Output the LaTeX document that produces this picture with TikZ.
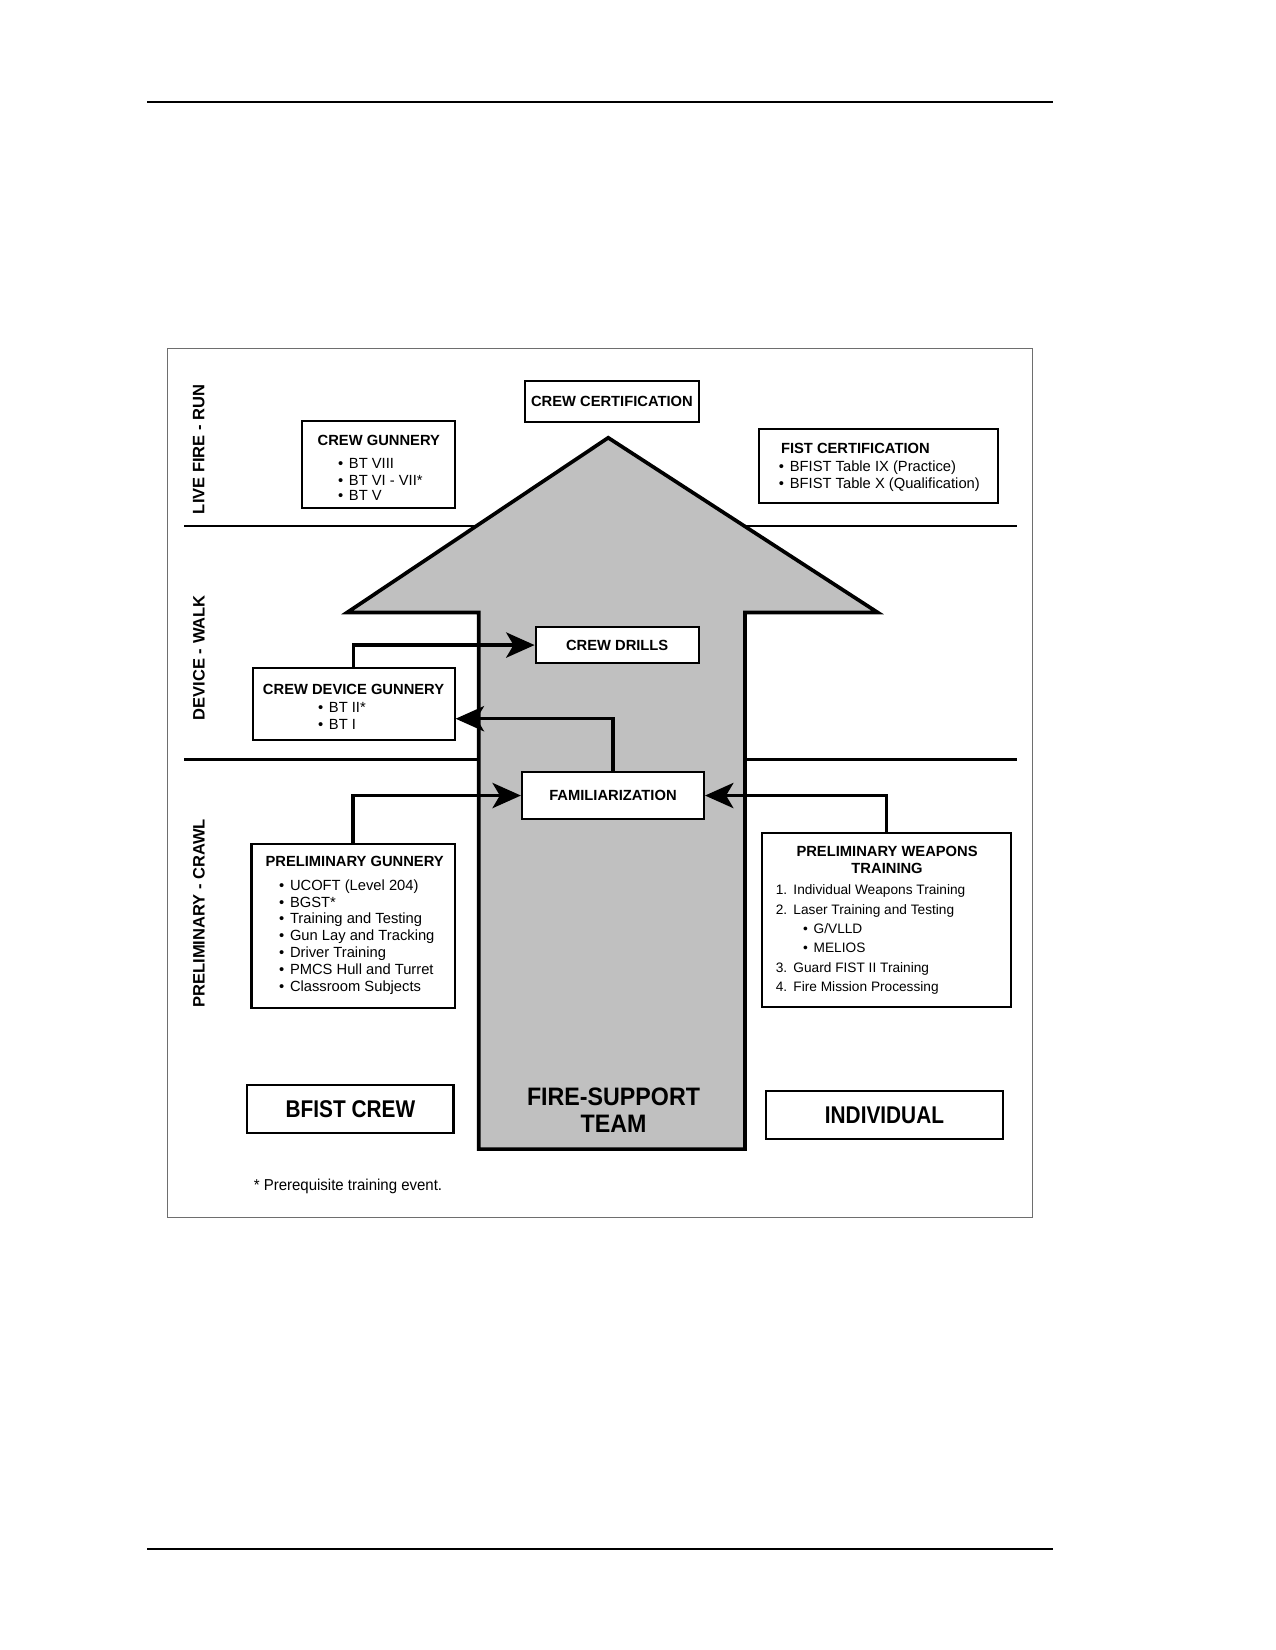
\documentclass[tikz,border=0pt]{standalone}
\usepackage{fontspec}
\setmainfont{Liberation Sans}
\newfontfamily\narrowsans[FakeStretch=0.86]{Liberation Sans}
\newfontfamily\semisans[FakeStretch=0.92]{Liberation Sans}
\newfontfamily\notesans[FakeStretch=0.95]{Liberation Sans}
\usetikzlibrary{arrows.meta,calc}
\definecolor{arrowgray}{RGB}{192,192,192}
\definecolor{framegray}{RGB}{110,110,110}
\newcommand{\blt}{\textbullet\hspace{5.5pt}}
\begin{document}
\begin{tikzpicture}[x=1pt,y=-1pt,
  box/.style={draw, line width=2pt, fill=white, inner sep=0pt},
  title/.style={font=\bfseries\fontsize{14}{16}\selectfont, inner sep=0pt},
  body/.style={font=\fontsize{14}{16}\selectfont, inner sep=0pt, anchor=base west},
  wbody/.style={font=\fontsize{13}{15}\selectfont, inner sep=0pt, anchor=base west},
  side/.style={font=\bfseries\fontsize{15.7}{18}\selectfont, inner sep=0pt, rotate=90},
  big/.style={font=\narrowsans\bfseries\fontsize{23}{25}\selectfont, inner sep=0pt, align=center},
  conn/.style={line width=3pt, -{Stealth[length=27pt, width=24pt, inset=7pt]}},
  band/.style={line width=2.5pt},
  rule/.style={line width=1.3pt}
]
\useasboundingbox (0,0) rectangle (1212,1568);
% page rules
\draw[rule] (140,97) -- (1001,97);
\draw[rule] (140,1472) -- (1001,1472);
% frame
\draw[framegray, line width=1.2pt] (159,331) rectangle (981,1157);
% section lines
\draw[band] (175,500) -- (966,500);
\draw[band] (175,722) -- (966,722);
% big arrow
\draw[line width=3.5pt, fill=arrowgray, line join=miter]
  (578,416) -- (834,582) -- (708,582) -- (708,1092) -- (455,1092) -- (455,582) -- (330,582) -- cycle;
% side labels
\node[side] (lfr) at (189,427) {LIVE FIRE - RUN};
\node[side] (dw) at (189,625) {DEVICE - WALK};
\node[side] (pc) at (189,868) {PRELIMINARY - CRAWL};
% boxes
\node[box, minimum width=165pt, minimum height=39pt] (crewcert) at (581.5,381.5) {};
\node[box, minimum width=145pt, minimum height=83pt] (crewgun) at (359.5,441.5) {};
\node[box, minimum width=227pt, minimum height=70pt] (fistcert) at (834.5,443) {};
\node[box, minimum width=155pt, minimum height=34pt] (crewdrills) at (586.5,613) {};
\node[box, minimum width=192pt, minimum height=68pt] (devgun) at (336,669) {};
\node[box, minimum width=173pt, minimum height=44pt] (famil) at (582.5,756) {};
\node[box, minimum width=193pt, minimum height=156pt] (prelgun) at (335.5,880) {};
\node[box, minimum width=237pt, minimum height=165pt] (prelweap) at (842.5,874.5) {};
\node[box, minimum width=196pt, minimum height=46pt] (bfist) at (333,1054) {};
\node[box, minimum width=225pt, minimum height=45pt] (indiv) at (840.5,1059.5) {};
% connectors
\draw[conn] (devgun.north) |- (crewdrills.west);
\draw[conn] (famil.north) |- ([yshift=-14pt]devgun.east);
\draw[conn] (prelgun.north) |- (famil.west);
\draw[conn] (prelweap.north) |- (famil.east);
% texts
\node[title] (crewcertT) at (crewcert.center) {CREW CERTIFICATION};
\node[title] (crewgunT) at (360,419) {CREW GUNNERY};
\node[body] (cg1) at (321,445) {\blt BT VIII};
\node[body] (cg2) at (321,461) {\blt BT VI - VII*};
\node[body] (cg3) at (321,476) {\blt BT V};
\node[title, anchor=base west] (fistT) at (742,431) {FIST CERTIFICATION};
\node[body] (fc1) at (740,448) {\blt BFIST Table IX (Practice)};
\node[body] (fc2) at (740,464) {\blt BFIST Table X (Qualification)};
\node[title] (crewdrillsT) at (crewdrills.center) {CREW DRILLS};
\node[title] (devgunT) at (336,655) {CREW DEVICE GUNNERY};
\node[body] (dg1) at (302,677) {\blt BT II*};
\node[body] (dg2) at (302,693) {\blt BT I};
\node[title] (familT) at (famil.center) {FAMILIARIZATION};
\node[title] (prelgunT) at (337,819) {PRELIMINARY GUNNERY};
\foreach \t [count=\i] in {UCOFT (Level 204), BGST*, Training and Testing, Gun Lay and Tracking, Driver Training, PMCS Hull and Turret, Classroom Subjects}
  \node[body] (pg\i) at (265,{846+(\i-1)*16}) {\blt \t};
\node[title, align=center, font=\bfseries\fontsize{14}{16}\selectfont] (prelweapT) at (843,817) {PRELIMINARY WEAPONS\\TRAINING};
\node[wbody] (pw1) at (737,850) {1.\hspace{6pt}Individual Weapons Training};
\node[wbody] (pw2) at (737,869) {2.\hspace{6pt}Laser Training and Testing};
\node[wbody] (pw2a) at (763,887) {\blt G/VLLD};
\node[wbody] (pw2b) at (763,905) {\blt MELIOS};
\node[wbody] (pw3) at (737,924) {3.\hspace{6pt}Guard FIST II Training};
\node[wbody] (pw4) at (737,942) {4.\hspace{6pt}Fire Mission Processing};
\node[big] (bfistT) at (bfist.center) {BFIST CREW};
\node[big] (indivT) at (indiv.center) {INDIVIDUAL};
\node[big, font=\semisans\bfseries\fontsize{24}{25}\selectfont] (fstT) at (583,1055) {FIRE-SUPPORT\\TEAM};
\node[font=\notesans\fontsize{15}{17}\selectfont, inner sep=0pt, anchor=west] (note) at (241,1127) {* Prerequisite training event.};
\end{tikzpicture}
\end{document}
